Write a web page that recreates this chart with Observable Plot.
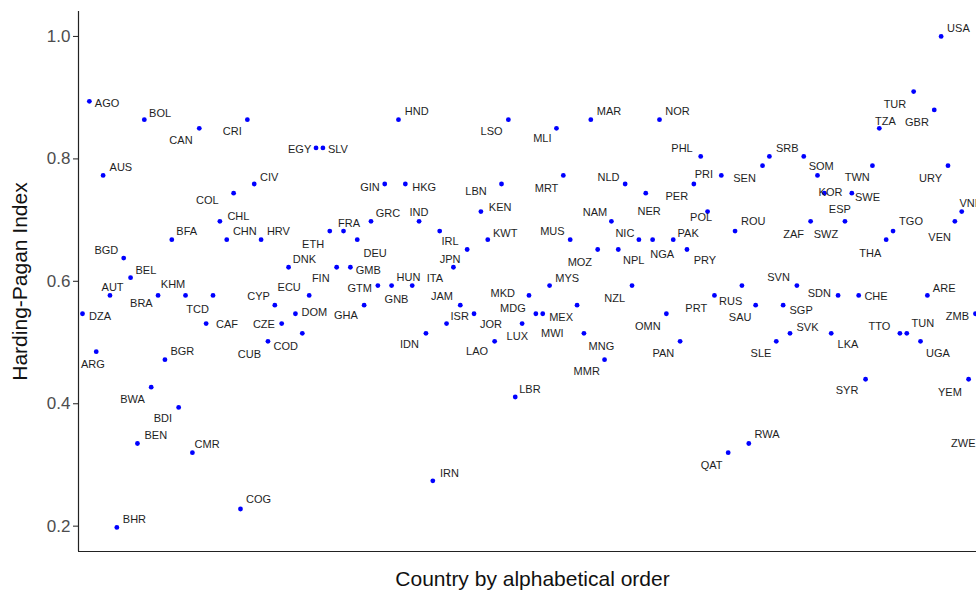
<!DOCTYPE html>
<html><head><meta charset="utf-8">
<script src="https://cdn.jsdelivr.net/npm/d3@7"></script>
<script src="https://cdn.jsdelivr.net/npm/@observablehq/plot@0.6"></script>
<style>html,body{margin:0;padding:0;background:#fff;overflow:hidden}</style>
</head><body><div id="chart"></div>
<script>
// Countries in alphabetical order of their names (ISO3 codes as labels)
const countries = ["DZA","AGO","ARG","AUS","AUT","BHR","BGD","BEL","BEN","BOL","BWA","BRA","BGR","BFA","BDI","KHM","CMR","CAN","CAF","TCD",
"CHL","CHN","COL","COG","CRI","CIV","HRV","CUB","CYP","CZE","DNK","DOM","COD","ECU","EGY","SLV","ETH","FIN","FRA","GMB",
"DEU","GHA","GRC","GTM","GIN","GNB","HND","HKG","HUN","IND","IDN","IRN","IRL","ISR","ITA","JAM","JPN","JOR","KEN","KWT",
"LAO","LBN","LSO","LBR","LUX","MKD","MDG","MWI","MYS","MLI","MRT","MUS","MEX","MNG","MAR","MOZ","MMR","NAM","NPL","NLD",
"NZL","NIC","NER","NGA","NOR","OMN","PAK","PAN","PRY","PER","PHL","POL","PRT","PRI","QAT","ROU","RUS","RWA","SAU","SEN",
"SRB","SLE","SGP","SVK","SVN","SOM","ZAF","KOR","ESP","LKA","SDN","SWZ","SWE","CHE","SYR","TWN","TZA","THA","TGO","TTO",
"TUN","TUR","UGA","ARE","GBR","USA","URY","VEN","VNM","YEM","ZMB","ZWE"];

const hpIndex = [0.547,0.894,0.485,0.773,0.577,0.198,0.638,0.606,0.335,0.864,0.427,0.577,0.472,0.668,0.394,0.577,0.320,0.850,0.531,0.577,
0.698,0.668,0.744,0.228,0.864,0.759,0.668,0.502,0.561,0.531,0.623,0.547,0.515,0.577,0.818,0.818,0.682,0.623,0.682,0.623,
0.668,0.561,0.698,0.593,0.759,0.593,0.864,0.759,0.593,0.698,0.515,0.274,0.682,0.531,0.623,0.561,0.652,0.547,0.714,0.668,
0.502,0.759,0.864,0.411,0.531,0.577,0.547,0.547,0.593,0.850,0.773,0.668,0.561,0.515,0.864,0.652,0.472,0.698,0.652,0.759,
0.593,0.668,0.744,0.668,0.864,0.547,0.668,0.502,0.652,0.759,0.804,0.714,0.577,0.773,0.320,0.682,0.593,0.335,0.561,0.789,
0.804,0.502,0.561,0.515,0.593,0.804,0.698,0.773,0.744,0.515,0.577,0.698,0.744,0.577,0.440,0.789,0.850,0.668,0.682,0.515,
0.515,0.910,0.502,0.577,0.880,1.000,0.789,0.698,0.714,0.440,0.547,0.335];

const yTicks = [0.2, 0.4, 0.6, 0.8, 1.0];

// Label placement (repel-style nudges, in pixels), layout only
const labelNudge = [[17.5,3],[17.7,1.7],[-3.3,12.3],[17.8,-8.3],[2.6,-8.3],[17.6,-8.4],[-17.4,-8],[15.3,-7],[18.4,-8],[15.8,-6.6],
[-18.7,12.3],[-16.7,7.7],[17.4,-8],[14.9,-8.3],[-15.8,10.6],[-12.5,-11],[14.7,-8],[-18.3,12.3],[20.8,1],[-15.4,14.3],
[18.5,-5.3],[18.1,-8.3],[-26.2,7.7],[18.1,-9.3],[-15.1,11.4],[15,-6.6],[17.3,-8.3],[-18.6,13],[-16.3,-8.3],[-17.8,1.3],
[15.9,-8],[18.9,-1],[-16.5,13],[-20,-8.3],[-16.4,1.7],[15,1.7],[-16.7,13.3],[-15.9,11.3],[5.6,-8],[17.8,3],
[17.9,13.3],[-18.3,10.7],[16.9,-8.3],[-18.1,3.3],[-14.8,3.4],[4.9,14.3],[18.2,-8.3],[18.9,3.4],[-3.7,-8.3],[-0.2,-9.3],
[-16.5,11.3],[16.6,-7],[10.3,10],[13.1,-7.3],[-18.5,11.3],[-18.4,-8.3],[-17.1,10],[16.9,10.7],[19.2,-4],[17.4,-6.7],
[-17.6,9.7],[-25.5,7.4],[-16.8,11.4],[14.7,-8],[-4.8,12.7],[-26.2,-2.3],[-23,-5.6],[9.6,19.4],[17.7,-6.7],[-14.1,10.6],
[-16.8,12.7],[-17.8,-8.3],[-16,12.7],[17.5,13],[18.2,-8.3],[-17.8,12.7],[-17.8,12],[-16.5,-8.7],[15.5,11],[-16.7,-6.6],
[-17.3,13.3],[-14,-6.7],[3.3,18],[9.5,14.3],[18,-8.3],[-18.6,12.4],[14.9,-6.7],[-16.8,12.3],[17.9,11],[-17,12.7],
[-18.7,-8.4],[-6.5,6],[-18.2,12.7],[-17.5,-1],[-16.5,12.7],[18.1,-9.7],[-11.2,15.7],[18.2,-8.7],[-15.5,12.3],[-18,13.3],
[17.9,-8.4],[-15.3,12.3],[18,5.7],[17.5,-5.4],[-18.3,-8.3],[17.5,10],[-17,13],[13,17.3],[15.5,16],[16.7,11.3],
[-18.8,-2.3],[-19,13],[15.7,4.7],[17.3,1],[-18.5,11.3],[-15.2,11.7],[6.2,-7],[-15.8,13.3],[18,-9.7],[-20.5,-7],
[16,-10],[-18.7,13],[17.5,12.3],[16.8,-6.7],[-17.3,13],[17.3,-8.4],[-17.4,13.3],[-15.2,15.7],[10,-8],[-18.7,13],
[-18,2.7],[-19,0]];

const data = countries.map((code, i) => ({code, order: i, hp: hpIndex[i]}));

const xDomain = [-0.582, 130.15];
const yDomain = [0.1586, 1.0408];

const labelMarks = data.map((d, i) => Plot.text([d], {
  x: "order", y: "hp", text: "code",
  dx: labelNudge[i][0], dy: labelNudge[i][1],
  fontSize: 11, fill: "#1e1e1e", textAnchor: "middle", lineAnchor: "middle"
}));

const chart = Plot.plot({
  width: 976, height: 592,
  marginLeft: 78, marginRight: 0, marginTop: 11, marginBottom: 41,
  x: {domain: xDomain, axis: null},
  y: {domain: yDomain, axis: null},
  style: {fontFamily: "'Liberation Sans', Arial, sans-serif", background: "#fff"},
  marks: [
    Plot.axisY(yTicks, {anchor: "left", tickSize: 5, tickPadding: 3, fontSize: 17,
      tickFormat: d => d.toFixed(1), fill: "#4d4d4d", stroke: "#333", strokeWidth: 1.1, label: null}),
    Plot.ruleX([xDomain[0]], {stroke: "#222", strokeWidth: 1.2}),
    Plot.ruleY([yDomain[0]], {stroke: "#222", strokeWidth: 1.2}),
    Plot.dot(data, {x: "order", y: "hp", r: 2.4, fill: "#0000ff"}),
    ...labelMarks,
    Plot.text(["Harding-Pagan Index"], {text: d => d, frameAnchor: "left", textAnchor: "middle", lineAnchor: "middle",
      rotate: -90, dx: -58, fontSize: 21, fill: "#111"}),
    Plot.text(["Country by alphabetical order"], {text: d => d, frameAnchor: "bottom", textAnchor: "middle", lineAnchor: "middle",
      dy: 28, dx: 5, fontSize: 21, fill: "#111"})
  ]
});
document.getElementById("chart").appendChild(chart);
</script>
</body></html>
